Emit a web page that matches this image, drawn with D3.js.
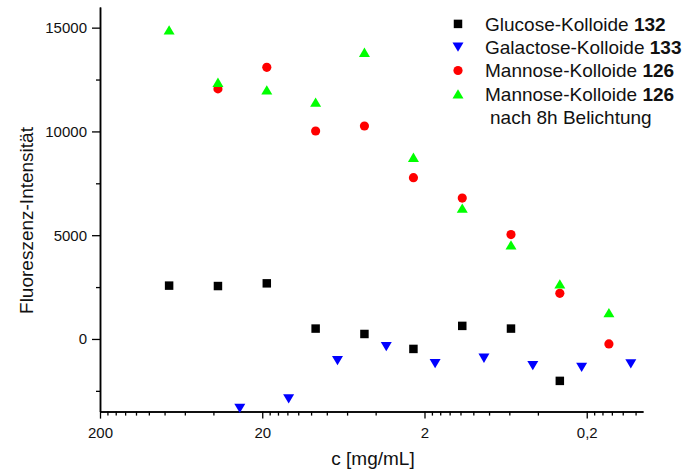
<!DOCTYPE html>
<html>
<head>
<meta charset="utf-8">
<script src="https://cdn.jsdelivr.net/npm/d3@7"></script>
<style>
  body { margin: 0; background: #fff; }
  svg { display: block; font-family: "Liberation Sans", Arial, Helvetica, sans-serif; }
</style>
</head>
<body>
<div id="chart"></div>
<script>
// concentrations c [mg/mL]
const concMain = [75, 37.5, 18.75, 9.375, 4.69, 2.34, 1.17, 0.586, 0.293, 0.146];
const concGal = [27.5, 13.75, 6.875, 3.44, 1.72, 0.86, 0.43, 0.215, 0.107];

// fluorescence intensities
const glucose132 = [2570, 2550, 2680, 500, 240, -480, 630, 500, -2020];          // concMain[0..8]
const galactose133 = [-3340, -2890, -1045, -370, -1190, -930, -1285, -1365, -1205]; // concGal
const mannose126 = [12050, 13090, 10020, 10260, 7770, 6790, 5030, 2200, -240];  // concMain[1..9]
const mannose126Light = [14890, 12370, 12000, 11410, 13815, 8755, 6300, 4530, 2650, 1270]; // concMain

const xMajor = [200, 20, 2, 0.2];
const xMajorLabels = ["200", "20", "2", "0,2"];
const xMinor = [180, 160, 140, 120, 100, 80, 60, 40,
                18, 16, 14, 12, 10, 8, 6, 4,
                1.8, 1.6, 1.4, 1.2, 1, 0.8, 0.6, 0.4,
                0.18, 0.16, 0.14, 0.12, 0.1];
const yMajor = [0, 5000, 10000, 15000];
const yMinor = [-2500, 2500, 7500, 12500];

const legendItems = [
  { name: "Glucose-Kolloide ", num: "132", shape: "square", color: "#000000" },
  { name: "Galactose-Kolloide ", num: "133", shape: "down", color: "#0000ff" },
  { name: "Mannose-Kolloide ", num: "126", shape: "circle", color: "#ff0000" },
  { name: "Mannose-Kolloide ", num: "126", shape: "up", color: "#00ff00" }
];

const W = 682, H = 473;
const svg = d3.select("#chart").append("svg")
  .attr("width", W).attr("height", H);

const x = d3.scaleLog().domain([200, 0.09]).range([100, 643]);
const y = d3.scaleLinear().domain([-3500, 16000]).range([411.6, 6.9]);

// marker shapes
function markerPath(shape) {
  if (shape === "square") return d3.symbol(d3.symbolSquare, 72)();
  if (shape === "circle") return d3.symbol(d3.symbolCircle, 66)();
  const w = 11, h = 9.3;
  if (shape === "up") return `M0,${-h / 2}L${w / 2},${h / 2}L${-w / 2},${h / 2}Z`;
  return `M${-w / 2},${-h / 2}L${w / 2},${-h / 2}L0,${h / 2}Z`;
}

// axes
const xAxisG = svg.append("g").attr("transform", `translate(0,${y.range()[0]})`);
xAxisG.call(d3.axisBottom(x).tickValues(xMinor).tickSize(4).tickSizeOuter(0).tickFormat(""));
xAxisG.append("g").call(d3.axisBottom(x).tickValues(xMajor).tickSize(7).tickSizeOuter(0).tickPadding(9)
  .tickFormat((d, i) => xMajorLabels[i]));

const yAxisG = svg.append("g").attr("transform", `translate(${x.range()[0]},0)`);
yAxisG.call(d3.axisLeft(y).tickValues(yMinor).tickSize(4).tickSizeOuter(0).tickFormat(""));
yAxisG.append("g").call(d3.axisLeft(y).tickValues(yMajor).tickSize(8).tickSizeOuter(0).tickPadding(5)
  .tickFormat(d => d));

svg.selectAll(".domain").attr("stroke", "#000").attr("stroke-width", 1.5);
svg.selectAll(".tick line").attr("stroke", "#000").attr("stroke-width", 1.3);
svg.selectAll(".tick text").attr("font-size", "15px").attr("fill", "#111")
  .attr("font-family", "Liberation Sans, Arial, sans-serif");

// axis titles
svg.append("text")
  .attr("transform", "translate(32.5,220.5) rotate(-90)")
  .attr("text-anchor", "middle")
  .attr("font-size", "19px")
  .attr("fill", "#111")
  .text("Fluoreszenz-Intensität");

svg.append("text")
  .attr("x", 373).attr("y", 465)
  .attr("text-anchor", "middle")
  .attr("font-size", "19px")
  .attr("fill", "#111")
  .text("c [mg/mL]");

// data series
const series = [
  { conc: concMain.slice(0, 9), vals: glucose132, item: legendItems[0] },
  { conc: concGal, vals: galactose133, item: legendItems[1] },
  { conc: concMain.slice(1), vals: mannose126, item: legendItems[2] },
  { conc: concMain, vals: mannose126Light, item: legendItems[3] }
];

series.forEach(s => {
  svg.append("g").selectAll("path")
    .data(s.vals.map((v, i) => ({ c: s.conc[i], v })))
    .enter().append("path")
    .attr("d", markerPath(s.item.shape))
    .attr("transform", d => `translate(${x(d.c)},${y(d.v)})`)
    .attr("fill", s.item.color);
});

// legend
const legend = svg.append("g");
legendItems.forEach((it, i) => {
  const base = 30.7 + i * 23.3;
  legend.append("path")
    .attr("d", markerPath(it.shape))
    .attr("transform", `translate(458,${base - 6.8})`)
    .attr("fill", it.color);
  const t = legend.append("text")
    .attr("x", 485).attr("y", base)
    .attr("font-size", "19px")
    .attr("fill", "#111");
  t.append("tspan").text(it.name);
  t.append("tspan").attr("font-weight", "bold").text(it.num);
});
legend.append("text")
  .attr("x", 490).attr("y", 30.7 + 4 * 23.3)
  .attr("font-size", "19px")
  .attr("fill", "#111")
  .text("nach 8h Belichtung");
</script>
</body>
</html>
